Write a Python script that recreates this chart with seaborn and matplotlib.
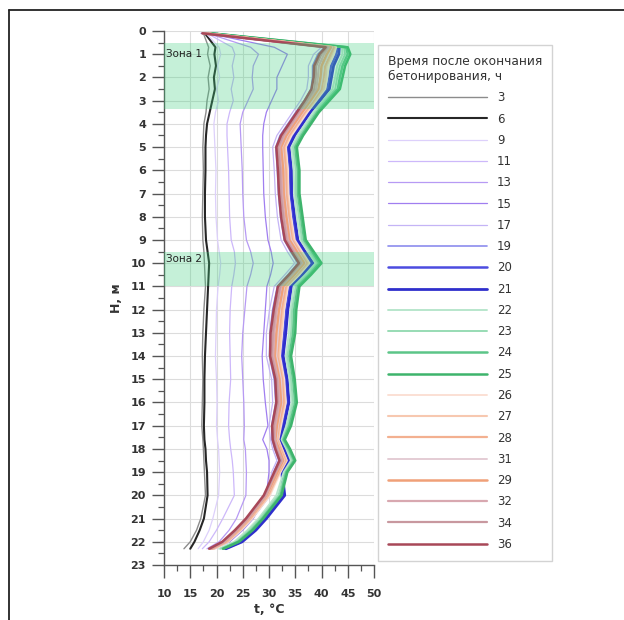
import numpy as np
import pandas as pd
import matplotlib
matplotlib.use("Agg")
import matplotlib.pyplot as plt
from matplotlib.lines import Line2D
from matplotlib.ticker import MultipleLocator
import seaborn as sns

# depth grid, m
depth = [0.1, 0.7, 1, 1.5, 2, 2.5, 3, 3.5, 4, 4.5, 5, 6, 7, 8, 9, 9.5, 10, 10.5, 11,
         12, 13, 14, 15, 16, 17, 17.6, 18, 18.5, 19, 20, 21, 21.5, 22, 22.3]

# temperature profiles, deg C (hours after end of concreting)
t3 = [17.5, 18.5, 18.3, 18.8, 18.4, 18.6, 18.2, 18.0, 17.6, 17.5, 17.4, 17.5, 17.4, 17.3, 17.4, 17.6, 17.7,
      17.8, 17.9, 17.6, 17.4, 17.3, 17.4, 17.3, 17.2, 17.4, 17.5, 17.6, 17.7, 17.9, 17.0, 16.2, 15.0, 13.8]
t6 = [17.8, 19.8, 19.6, 19.9, 19.5, 19.7, 19.2, 18.7, 18.2, 18.0, 17.9, 17.9, 17.8, 17.8, 18.0, 18.3, 18.6,
      18.5, 18.4, 18.2, 18.0, 17.8, 17.7, 17.7, 17.6, 17.7, 17.9, 18.0, 18.2, 18.3, 17.6, 16.8, 15.8, 15.0]
t9 = [18.0, 20.5, 20.8, 20.2, 20.6, 20.0, 20.4, 19.8, 19.5, 19.6, 19.7, 19.9, 19.8, 19.9, 20.2, 20.5, 20.8,
      20.6, 20.3, 20.0, 19.9, 19.8, 20.0, 20.1, 20.0, 20.2, 20.4, 20.5, 20.6, 20.4, 19.3, 18.6, 17.5, 16.5]
t11 = [18.2, 23.0, 23.5, 23.0, 23.3, 22.8, 23.2, 22.5, 22.0, 22.0, 22.1, 22.3, 22.4, 22.5, 22.8, 23.4, 23.6,
       23.3, 22.9, 22.6, 22.5, 22.6, 22.7, 22.4, 22.3, 22.5, 22.7, 23.0, 23.2, 23.4, 21.2, 20.0, 18.6, 17.3]
t13 = [18.3, 26.5, 28.0, 27.0, 26.8, 27.0, 26.0, 25.0, 24.5, 24.6, 24.7, 24.9, 25.0, 25.2, 25.7, 26.5, 27.0,
       26.5, 25.8, 25.4, 25.0, 24.8, 25.0, 25.2, 25.3, 25.2, 25.5, 25.6, 25.7, 25.6, 23.8, 22.4, 20.5, 18.2]
t15 = [18.5, 31.0, 33.5, 32.5, 31.5, 31.5, 30.5, 29.5, 29.0, 28.8, 28.8, 28.9, 29.0, 29.3, 29.8, 30.4, 30.8,
       30.3, 29.6, 29.3, 29.0, 28.7, 28.9, 29.3, 29.8, 28.8, 29.6, 30.0, 30.0, 29.5, 27.0, 25.0, 22.5, 19.5]
t17 = [17.0, 40.0, 38.5, 37.5, 37.5, 37.2, 36.0, 34.5, 33.0, 31.5, 30.7, 31.0, 31.2, 31.6, 32.3, 33.5, 34.9,
       33.0, 31.0, 30.1, 29.5, 29.5, 30.5, 30.7, 30.0, 30.3, 30.7, 31.5, 30.5, 29.8, 26.4, 24.3, 21.9, 19.2]
t19 = [17.2, 40.6, 39.3, 38.3, 38.3, 38.0, 36.7, 35.1, 33.6, 32.1, 31.3, 31.6, 31.8, 32.2, 32.9, 34.1, 35.5,
       33.6, 31.6, 30.7, 30.2, 30.1, 31.0, 31.3, 30.5, 30.6, 31.1, 31.9, 30.9, 30.2, 26.8, 24.7, 22.2, 19.6]
t20 = [18.2, 43.1, 42.8, 41.8, 41.5, 41.1, 39.4, 37.6, 36.1, 34.6, 33.6, 34.0, 34.1, 34.6, 35.2, 36.6, 38.1,
       36.1, 34.0, 33.3, 32.9, 32.4, 33.2, 33.6, 32.6, 32.0, 32.7, 33.7, 32.4, 32.8, 29.3, 27.3, 24.7, 21.6]
t21 = [18.4, 43.4, 43.3, 42.3, 41.9, 41.5, 39.7, 37.9, 36.4, 34.9, 33.8, 34.3, 34.3, 34.9, 35.5, 36.9, 38.4,
       36.4, 34.3, 33.6, 33.2, 32.7, 33.5, 33.8, 32.9, 32.1, 32.9, 33.9, 32.5, 33.0, 29.5, 27.5, 24.9, 21.8]
t22 = [18.6, 43.9, 44.0, 43.0, 42.6, 42.1, 40.3, 38.4, 36.9, 35.4, 34.3, 34.7, 34.8, 35.3, 36.0, 37.4, 38.9,
       36.9, 34.7, 34.1, 33.8, 33.2, 33.9, 34.3, 33.3, 32.4, 33.3, 34.2, 32.8, 31.4, 28.0, 25.9, 23.4, 20.5]
t23 = [18.7, 44.3, 44.5, 43.5, 43.0, 42.6, 40.7, 38.8, 37.3, 35.8, 34.6, 35.1, 35.1, 35.7, 36.3, 37.8, 39.2,
       37.3, 35.1, 34.4, 34.2, 33.5, 34.2, 34.6, 33.6, 32.6, 33.5, 34.5, 33.1, 31.8, 28.3, 26.3, 23.8, 20.8]
t24 = [18.9, 44.7, 45.0, 44.0, 43.5, 43.1, 41.1, 39.2, 37.7, 36.2, 35.0, 35.5, 35.5, 36.1, 36.7, 38.2, 39.6,
       37.7, 35.5, 34.8, 34.6, 33.9, 34.6, 35.0, 33.9, 32.8, 33.8, 34.8, 33.3, 32.2, 28.7, 26.7, 24.1, 21.2]
t25 = [19.0, 45.0, 45.5, 44.5, 44.0, 43.5, 41.5, 39.5, 38.0, 36.5, 35.3, 35.8, 35.8, 36.4, 37.0, 38.5, 40.0,
       38.0, 35.8, 35.2, 35.0, 34.2, 34.9, 35.3, 34.2, 33.0, 34.0, 35.0, 33.5, 32.4, 28.9, 26.9, 24.3, 21.3]
t26 = [18.1, 42.8, 42.4, 41.4, 41.1, 40.7, 39.0, 37.3, 35.8, 34.3, 33.2, 33.6, 33.7, 34.2, 34.9, 36.3, 37.7,
       35.8, 33.6, 32.9, 32.5, 32.1, 32.9, 33.2, 32.3, 31.8, 32.5, 33.4, 32.2, 30.2, 26.8, 24.7, 22.2, 19.6]
t27 = [18.0, 42.5, 42.0, 41.0, 40.8, 40.4, 38.8, 37.0, 35.5, 34.0, 33.0, 33.4, 33.5, 34.0, 34.7, 36.0, 37.5,
       35.5, 33.4, 32.7, 32.3, 31.9, 32.7, 33.0, 32.1, 31.7, 32.4, 33.3, 32.0, 30.0, 26.6, 24.5, 22.1, 19.4]
t28 = [17.9, 42.3, 41.7, 40.7, 40.4, 40.0, 38.5, 36.8, 35.3, 33.8, 32.8, 33.2, 33.3, 33.8, 34.4, 35.8, 37.2,
       35.3, 33.2, 32.4, 32.0, 31.6, 32.5, 32.8, 31.9, 31.5, 32.2, 33.1, 31.9, 29.8, 26.4, 24.3, 21.9, 19.2]
t31 = [17.8, 42.0, 41.3, 40.3, 40.1, 39.7, 38.2, 36.5, 35.0, 33.5, 32.5, 32.9, 33.0, 33.5, 34.2, 35.5, 36.9,
       35.0, 32.9, 32.1, 31.7, 31.4, 32.3, 32.5, 31.7, 31.4, 32.0, 32.9, 31.7, 29.6, 26.2, 24.1, 21.7, 19.1]
t29 = [17.7, 41.8, 41.0, 40.0, 39.8, 39.4, 37.9, 36.3, 34.8, 33.3, 32.3, 32.7, 32.8, 33.3, 33.9, 35.3, 36.7,
       34.8, 32.7, 31.9, 31.4, 31.1, 32.0, 32.3, 31.5, 31.2, 31.9, 32.7, 31.6, 29.5, 26.1, 24.0, 21.6, 19.0]
t32 = [17.6, 41.4, 40.5, 39.5, 39.3, 39.0, 37.5, 35.9, 34.4, 32.9, 32.0, 32.3, 32.5, 32.9, 33.6, 34.9, 36.3,
       34.4, 32.3, 31.5, 31.0, 30.8, 31.7, 32.0, 31.2, 31.1, 31.6, 32.5, 31.3, 29.4, 26.0, 23.9, 21.5, 18.9]
t34 = [17.4, 41.1, 40.0, 39.0, 38.9, 38.6, 37.2, 35.6, 34.1, 32.6, 31.7, 32.1, 32.2, 32.7, 33.3, 34.6, 36.0,
       34.1, 32.1, 31.2, 30.7, 30.5, 31.5, 31.7, 30.9, 30.9, 31.4, 32.3, 31.2, 29.2, 25.8, 23.7, 21.3, 18.8]
t36 = [17.3, 40.8, 39.6, 38.6, 38.5, 38.1, 36.8, 35.3, 33.8, 32.3, 31.4, 31.7, 31.9, 32.3, 33.0, 34.3, 35.7,
       33.8, 31.7, 30.9, 30.3, 30.2, 31.2, 31.4, 30.6, 30.7, 31.2, 32.0, 31.0, 29.0, 25.6, 23.5, 21.1, 18.6]

hours = ["3", "6", "9", "11", "13", "15", "17", "19", "20", "21", "22", "23", "24", "25",
         "26", "27", "28", "31", "29", "32", "34", "36"]
profiles = [t3, t6, t9, t11, t13, t15, t17, t19, t20, t21, t22, t23, t24, t25,
            t26, t27, t28, t31, t29, t32, t34, t36]
colors = ["#8c8c8c", "#262626", "#ddd0fb", "#cdb8fa", "#b79af4", "#a07ef0", "#c4b4f6", "#8c8cee",
          "#4c4ce0", "#2f2fcc", "#b8e6cc", "#98dcb4", "#5cc588", "#3eb46c",
          "#fbe0d4", "#f7c8b0", "#f3b090", "#e4ccd4", "#f0a078", "#d8a8b0", "#c8989f", "#a84858"]
widths = [1.0, 1.5, 0.9, 0.9, 0.9, 0.9, 0.9, 1.2, 1.8, 2.0, 1.4, 1.4, 1.8, 1.8,
          1.4, 1.5, 1.6, 1.4, 1.8, 1.6, 1.6, 1.8]

zones = [(0.5, 3.35, "Зона 1", 1.0), (9.5, 11.0, "Зона 2", 9.8)]

rows = []
for h, prof in zip(hours, profiles):
    for d, t in zip(depth, prof):
        rows.append({"hour": h, "H": d, "t": t})
df = pd.DataFrame(rows)

sns.set_theme(style="white")
plt.rcParams["font.family"] = ["DejaVu Sans"]

fig = plt.figure(figsize=(6.24, 6.20), dpi=100)
ax = fig.add_axes([164 / 624, 55 / 620, 210 / 624, 534 / 620])

palette = dict(zip(hours, colors))
sns.lineplot(data=df, x="t", y="H", hue="hour", hue_order=hours, palette=palette,
             sort=False, estimator=None, orient="y", ax=ax, legend=True)
for line, w in zip(ax.get_lines(), widths):
    line.set_linewidth(w)

for y0, y1, lab, ly in zones:
    ax.axhspan(y0, y1, color="#3fd07f", alpha=0.30, lw=0, zorder=5)
    ax.text(10.4, ly, lab, fontsize=7.5, va="center", ha="left", color="#222", zorder=6)

ax.set_xlim(10, 50)
ax.set_ylim(23, 0)
ax.xaxis.set_major_locator(MultipleLocator(5))
ax.xaxis.set_minor_locator(MultipleLocator(2.5))
ax.yaxis.set_major_locator(MultipleLocator(1))
ax.yaxis.set_minor_locator(MultipleLocator(0.5))
ax.grid(True, which="major", color="#dcdcdc", lw=0.8, zorder=0)
ax.set_axisbelow(True)
for s in ["top", "right"]:
    ax.spines[s].set_visible(False)
for s in ["left", "bottom"]:
    ax.spines[s].set_color("#555555")
    ax.spines[s].set_linewidth(1.0)
ax.tick_params(which="major", direction="out", length=9, width=1.0, color="#555555",
               labelsize=8, labelcolor="#333333", left=True, bottom=True)
ax.tick_params(axis="x", which="major", pad=8)
ax.tick_params(axis="y", which="major", pad=4)
ax.tick_params(which="minor", direction="out", length=4, width=0.9, color="#555555",
               left=True, bottom=True)
for lbl in ax.get_xticklabels() + ax.get_yticklabels():
    lbl.set_fontweight("bold")
ax.set_xlabel("t, °C", fontsize=9, fontweight="bold", color="#333333", labelpad=3)
ax.set_ylabel("H, м", fontsize=9, fontweight="bold", color="#333333", labelpad=5)

handles, labels = ax.get_legend_handles_labels()
for hnd, w in zip(handles, widths):
    hnd.set_linewidth(w)
leg = ax.legend(handles, labels, title="Время после окончания\nбетонирования, ч",
                loc="upper left", bbox_to_anchor=(1.018, 0.974), frameon=True,
                fontsize=8.5, title_fontsize=8.8, handlelength=8.4, handletextpad=0.85,
                labelspacing=0.70, borderpad=0.85, fancybox=False, alignment="left",
                borderaxespad=0)
leg.get_frame().set_edgecolor("#c8c8c8")
leg.get_frame().set_linewidth(1.0)
leg.get_title().set_color("#333333")
for txt in leg.get_texts():
    txt.set_color("#333333")
leg.set_zorder(10)

fig.add_artist(Line2D([9 / 624, 9 / 624], [0, 1 - 10 / 620], transform=fig.transFigure,
                      color="#222222", lw=1.3))
fig.add_artist(Line2D([9 / 624, 1], [1 - 10 / 620, 1 - 10 / 620], transform=fig.transFigure,
                      color="#222222", lw=1.3))

fig.savefig("out.png", dpi=100)
